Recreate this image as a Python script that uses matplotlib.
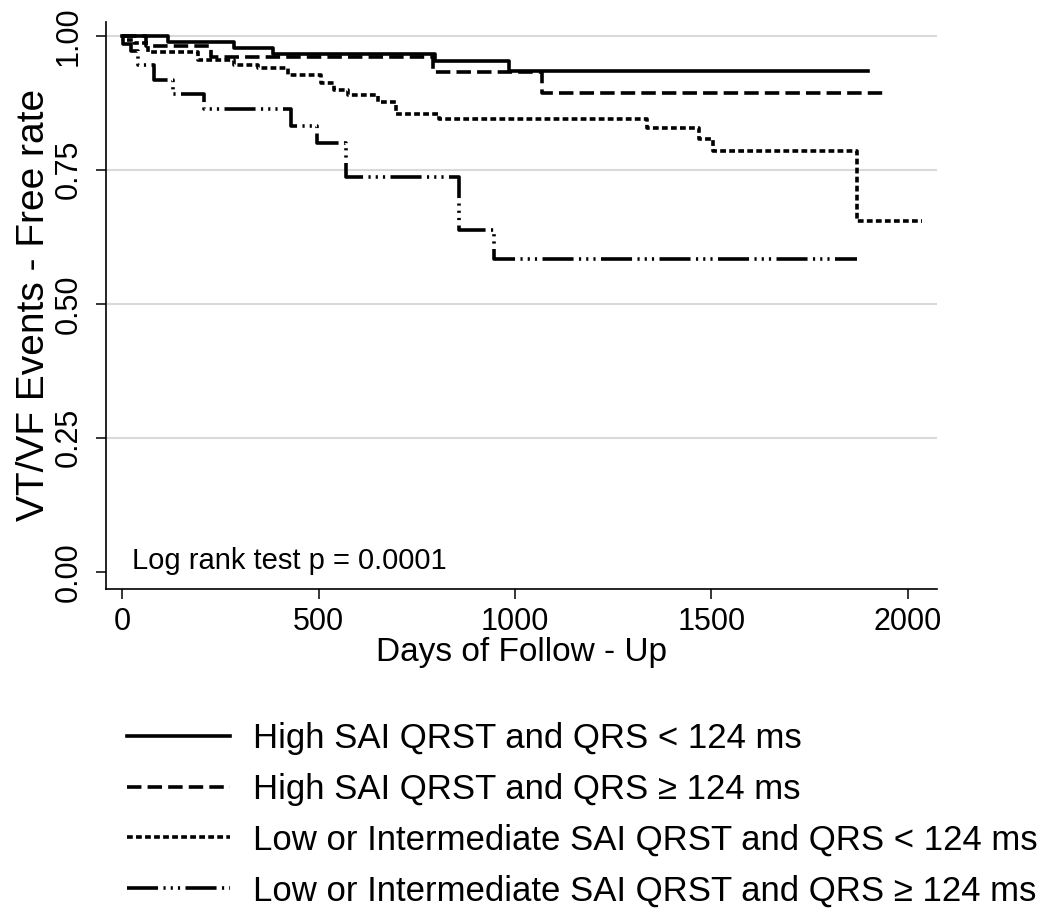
import matplotlib
matplotlib.use('Agg')
import matplotlib.pyplot as plt

plt.rcParams['font.family'] = ['Liberation Sans', 'DejaVu Sans']

# --- データ (Kaplan-Meier 曲線, 目視で読み取り) ---
days_high_narrow = [0, 116, 285, 385, 795, 984, 1898]
surv_high_narrow = [1.0, 0.988, 0.977, 0.966, 0.952, 0.934, 0.934]

days_high_wide = [0, 61, 226, 792, 1069, 1946]
surv_high_wide = [1.0, 0.980, 0.961, 0.933, 0.894, 0.894]

days_low_narrow = [0, 10, 31, 65, 192, 285, 345, 421, 506, 540, 574, 650, 697,
                   806, 1336, 1467, 1503, 1870, 2035]
surv_low_narrow = [1.0, 0.993, 0.987, 0.970, 0.955, 0.946, 0.940, 0.926, 0.912,
                   0.899, 0.890, 0.877, 0.854, 0.845, 0.828, 0.807, 0.785, 0.654, 0.654]

days_low_wide = [0, 2, 23, 40, 82, 129, 209, 430, 497, 569, 857, 946, 1870]
surv_low_wide = [1.0, 0.985, 0.971, 0.946, 0.918, 0.891, 0.863, 0.831, 0.800,
                 0.737, 0.638, 0.583, 0.583]

labels = [
    'High SAI QRST and QRS < 124 ms',
    'High SAI QRST and QRS \u2265 124 ms',
    'Low or Intermediate SAI QRST and QRS < 124 ms',
    'Low or Intermediate SAI QRST and QRS \u2265 124 ms',
]
y_ticks = [0.0, 0.25, 0.5, 0.75, 1.0]
x_ticks = [0, 500, 1000, 1500, 2000]

fig = plt.figure(figsize=(10.5, 9.09), dpi=100)
ax = fig.add_axes([0.101, 0.352, 0.7914, 0.624])

lw = 2.6
ax.step(days_high_narrow, surv_high_narrow, where='post', color='black',
        lw=lw, linestyle='-', label=labels[0])
ax.step(days_high_wide, surv_high_wide, where='post', color='black',
        lw=lw, linestyle=(0, (4, 1.7)), label=labels[1])
ax.step(days_low_narrow, surv_low_narrow, where='post', color='black',
        lw=lw, linestyle=(0, (1.6, 0.9)), label=labels[2])
ax.step(days_low_wide, surv_low_wide, where='post', color='black',
        lw=lw, linestyle=(0, (8.6, 1.5, 0.6, 1.4, 0.6, 1.4, 0.6, 1.5)),
        label=labels[3])

ax.set_xlim(-41, 2074)
ax.set_ylim(-0.032, 1.026)
ax.set_xticks(x_ticks)
ax.set_yticks(y_ticks)
ax.set_yticklabels([f'{v:.2f}' for v in y_ticks], rotation=90, va='center')

ax.grid(axis='y', color='#d9d9d9', lw=1.5)
ax.yaxis.get_gridlines()[0].set_visible(False)
ax.set_axisbelow(True)

for s in ['top', 'right']:
    ax.spines[s].set_visible(False)
for s in ['left', 'bottom']:
    ax.spines[s].set_linewidth(1.2)

ax.tick_params(axis='both', length=7, width=1.1, labelsize=22)
ax.tick_params(axis='x', pad=6)
ax.tick_params(axis='y', pad=9)

ax.set_xlabel('Days of Follow - Up', fontsize=24, labelpad=0)
ax.set_ylabel('VT/VF Events - Free rate', fontsize=28, labelpad=1)

ax.text(25, 0.005, 'Log rank test p = 0.0001', fontsize=21, va='baseline')

fig.legend(loc='upper left', bbox_to_anchor=(0.1206, 0.2056), frameon=False,
           fontsize=25, handlelength=2.97, handletextpad=0.66,
           labelspacing=0.51, borderpad=0, borderaxespad=0)

fig.savefig('out.png', dpi=100)
